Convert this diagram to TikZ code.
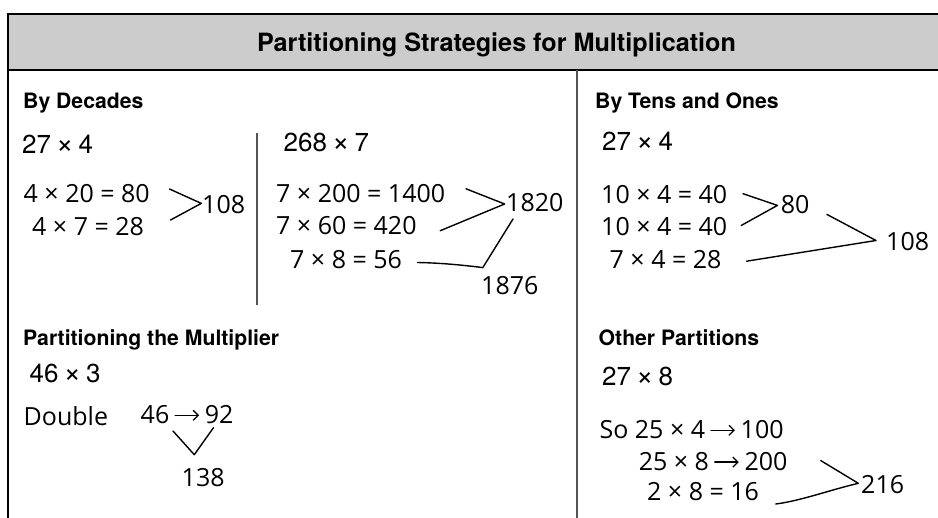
\documentclass[tikz,border=0pt]{standalone}
\usepackage{fontspec}
\usetikzlibrary{arrows.meta}
\setmainfont{TeX Gyre Heros}
\newfontfamily\hand{Open Sans}
\definecolor{headgray}{HTML}{CCCCCC}
\definecolor{divgray}{HTML}{555555}
\newcommand{\harr}{\kern1pt\tikz[baseline=-8.5pt]\draw[line width=1.3pt, line cap=round, -{Straight Barb[length=5pt,width=10pt,line width=1.3pt]}] (0pt,0pt) -- (24pt,0pt);\kern1pt}
\newcommand{\tms}{\kern5pt{\fontsize{30}{30}\selectfont ×}\kern5pt}
\tikzset{
  titletext/.style={font=\bfseries\fontsize{25.2}{28}\selectfont, inner sep=0pt, anchor=base},
  headtext/.style={font=\bfseries\fontsize{21.2}{24}\selectfont, inner sep=0pt, anchor=base west},
  probtext/.style={font=\fontsize{26}{28}\selectfont, inner sep=0pt, anchor=base west},
  handtext/.style={font=\hand\fontsize{25}{28}\selectfont, inner sep=0pt, anchor=base west},
  hline/.style={line width=1.4pt, black, line cap=round, line join=round},
  border/.style={line width=2pt, black},
  divider/.style={line width=1.6pt, divgray}
}
\begin{document}
\begin{tikzpicture}[x=1pt, y=-1pt]
\useasboundingbox (0,0) rectangle (938,518);
% frame
\fill[headgray] (8,14) rectangle (945,70);
\draw[border] (945,14) -- (8,14) -- (8,525);
\draw[border] (8,70) -- (945,70);
\draw[divider] (577,70) -- (577,525);
\draw[divider] (257,133) -- (257,305);
% title
\node[titletext] (title) at (496.5,52) {Partitioning Strategies for Multiplication};
% headings
\node[headtext] (h1) at (23,108.5) {By Decades};
\node[headtext] (h2) at (595,108.5) {By Tens and Ones};
\node[headtext] (h3) at (23,345.5) {Partitioning the Multiplier};
\node[headtext] (h4) at (598.5,345.5) {Other Partitions};
% typed problems
\node[probtext] (p1) at (22,154) {27\tms 4};
\node[probtext] (p2) at (283.5,152) {268\tms 7};
\node[probtext] (p3) at (602,150.5) {27\tms 4};
\node[probtext] (p4) at (29.5,383) {46\tms 3};
\node[probtext] (p5) at (602,385.3) {27\tms 8};
% By Decades, 27 x 4
\node[handtext] (a1) at (23.5,202.4) {4 × 20 = 80};
\node[handtext] (a2) at (32,236) {4 × 7 = 28};
\node[handtext] (a3) at (202,213.5) {108};
\coordinate (a1e) at (169.5,189);
\coordinate (a1v) at (201.3,203.4);
\coordinate (a2e) at (170.5,220);
\draw[hline] (a1e) -- (a1v) -- (a2e);
% By Decades, 268 x 7
\node[handtext] (b1) at (276,202.2) {7 × 200 = 1400};
\node[handtext] (b2) at (276,234.7) {7 × 60 = 420};
\node[handtext] (b3) at (290,269) {7 × 8 = 56};
\node[handtext] (b4) at (506,212) {1820};
\node[handtext] (b5) at (481,294.4) {1876};
\coordinate (b1e) at (466,188.8);
\coordinate (b1v) at (504.6,204);
\coordinate (b2e) at (440.3,230.7);
\draw[hline] (b1e) -- (b1v) -- (b2e);
\coordinate (b3e) at (417.5,262.5);
\coordinate (b3v) at (482.8,267.6);
\coordinate (b4e) at (513,219);
\draw[hline] (b3e) .. controls (445,263) and (470,266) .. (b3v) -- (b4e);
% By Tens and Ones
\node[handtext] (c1) at (601,203.7) {10 × 4 = 40};
\node[handtext] (c2) at (601,235.5) {10 × 4 = 40};
\node[handtext] (c3) at (609.5,269) {7 × 4 = 28};
\node[handtext] (c4) at (780.7,213.7) {80};
\node[handtext] (c5) at (886,250.5) {108};
\coordinate (c1e) at (743,193.7);
\coordinate (c1v) at (777.4,205.4);
\coordinate (c2e) at (741.2,225.5);
\draw[hline] (c1e) -- (c1v) -- (c2e);
\coordinate (c4e) at (826.9,214.4);
\coordinate (c4v) at (876,240.5);
\coordinate (c3e) at (746.6,261.2);
\draw[hline] (c4e) -- (c4v) -- (c3e);
% Partitioning the Multiplier
\node[handtext] (d1) at (23.5,426) {Double};
\node[handtext] (d2) at (140.5,423.8) {46\,\harr\,92};
\node[handtext] (d3) at (181.5,486.6) {138};
\coordinate (d1e) at (173,431);
\coordinate (d1v) at (194.3,454.7);
\coordinate (d2e) at (213.4,427.8);
\draw[hline] (d1e) -- (d1v) -- (d2e);
% Other Partitions
\node[handtext] (e1) at (599.4,438.8) {So 25 × 4\,\harr\,100};
\node[handtext] (e2) at (638.6,470.6) {25 × 8\,\harr\,200};
\node[handtext] (e3) at (647,500.7) {2 × 8 = 16};
\node[handtext] (e4) at (861,494) {216};
\coordinate (e2e) at (820.8,460.6);
\coordinate (e2v) at (858.3,483.3);
\coordinate (e3e) at (775.7,504);
\draw[hline] (e2e) -- (e2v) .. controls (830,490) and (800,501) .. (e3e);
\end{tikzpicture}
\end{document}
